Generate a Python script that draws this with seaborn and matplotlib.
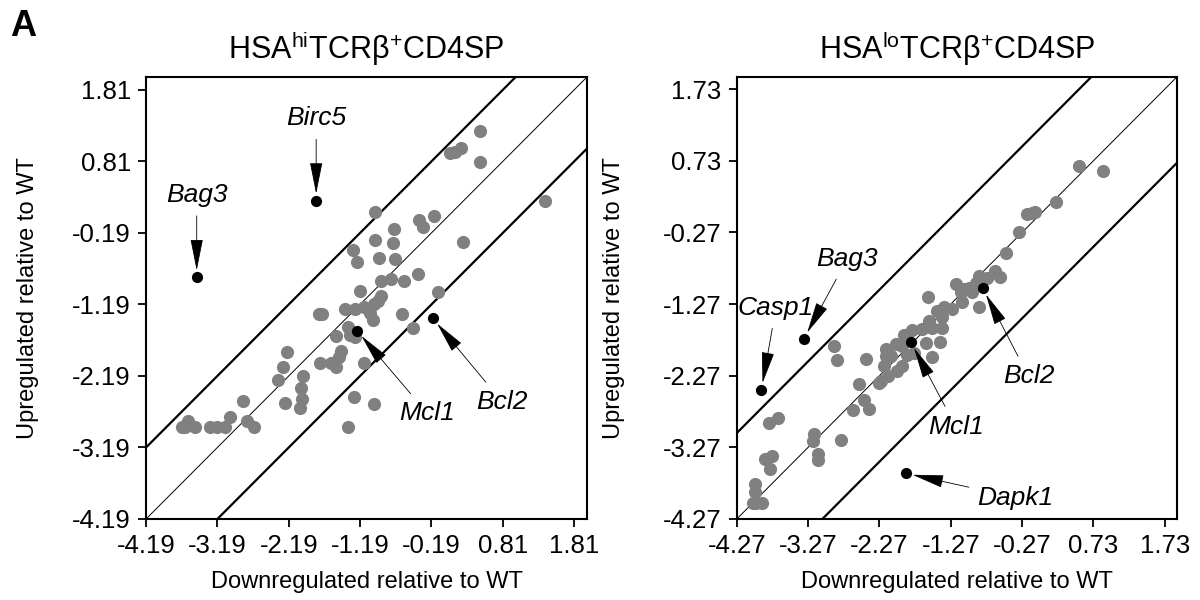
import matplotlib
matplotlib.use('Agg')
import matplotlib.pyplot as plt
import seaborn as sns
import pandas as pd

# HSA-hi panel: background genes (down, up)
hi_down = [0.495, 0.074, 0.144, 0.223, 0.495, 1.397, -0.978, -0.370, -0.310, -0.151,
           -0.712, -0.987, -0.730, 0.247, -1.296, -1.235, -0.922, -0.698, -0.384, -0.899,
           -0.758, -0.581, -1.198, -0.099, -0.899, -0.945, -1.001, -1.399, -1.259, -1.142,
           -1.072, -1.048, -1.011, -1.773, -1.726, -0.604, -1.366, -1.329, -1.259, -1.525,
           -0.454, -1.455, -1.492, -2.217, -1.749, -1.595, -1.530, -1.132, -2.273, -1.997,
           -2.343, -2.016, -2.007, -2.030, -2.834, -2.240, -1.282, -0.992, -3.012, -2.778,
           -2.684, -3.690, -3.596, -3.640, -3.503, -3.292, -3.199, -3.082, -1.361]
hi_up = [1.241, 0.934, 0.948, 0.994, 0.803, 0.262, 0.109, -0.008, -0.101, 0.048,
         -0.134, -0.288, -0.325, -0.320, -0.428, -0.591, -0.544, -0.558, -0.768, -0.861,
         -0.838, -0.861, -0.996, -1.015, -1.071, -1.136, -1.183, -1.253, -1.253, -1.220,
         -1.267, -1.313, -1.407, -1.327, -1.327, -1.323, -1.500, -1.616, -1.640, -1.626,
         -1.514, -1.836, -1.919, -1.859, -2.013, -2.013, -2.069, -2.013, -2.059, -2.185,
         -2.246, -2.362, -2.516, -2.642, -2.535, -2.572, -2.479, -2.581, -2.759, -2.815,
         -2.908, -2.908, -2.815, -2.908, -2.908, -2.908, -2.908, -2.908, -2.908]
hi_genes = ['Bag3', 'Birc5', 'Mcl1', 'Bcl2']
hi_gene_down = [-3.48, -1.806, -1.235, -0.174]
hi_gene_up = [-0.81, 0.262, -1.556, -1.383]
hi_ticks = [-4.19, -3.19, -2.19, -1.19, -0.19, 0.81, 1.81]
hi_labels = ['-4.19', '-3.19', '-2.19', '-1.19', '-0.19', '0.81', '1.81']

# HSA-lo panel
lo_down = [0.530, 0.869, 0.204, -0.201, -0.132, -0.094, -0.318, -0.495, -0.644, -0.574,
           -0.760, -0.876, -0.923, -1.193, -1.086, -1.016, -1.132, -0.969, -1.584, -0.876,
           -1.249, -1.365, -1.458, -1.109, -1.388, -1.575, -1.528, -1.398, -1.668, -1.807,
           -1.924, -2.031, -1.947, -1.621, -1.426, -2.180, -2.110, -2.180, -1.784, -1.877,
           -1.537, -2.203, -1.947, -2.017, -2.143, -2.273, -2.250, -2.459, -2.552, -2.902,
           -2.869, -2.645, -2.483, -2.422, -2.808, -3.181, -3.204, -3.134, -3.134, -3.693,
           -3.823, -3.870, -3.772, -3.809, -4.019, -4.019, -3.996, -3.916, -4.042]
lo_up = [0.655, 0.584, 0.153, -0.016, -0.002, 0.021, -0.270, -0.556, -0.815, -0.894,
         -0.909, -0.880, -0.974, -0.988, -1.059, -1.049, -1.106, -1.096, -1.176, -1.308,
         -1.340, -1.317, -1.364, -1.237, -1.444, -1.505, -1.599, -1.599, -1.622, -1.632,
         -1.707, -1.833, -1.857, -1.810, -1.796, -1.904, -1.998, -1.998, -1.951, -1.974,
         -2.007, -2.129, -2.139, -2.209, -2.279, -2.373, -2.350, -2.035, -2.383, -1.857,
         -2.054, -2.749, -2.608, -2.739, -3.162, -3.087, -3.181, -3.359, -3.444, -2.866,
         -2.927, -3.434, -3.392, -3.570, -3.782, -3.899, -4.040, -4.040, -4.040]
lo_genes = ['Bag3', 'Casp1', 'Mcl1', 'Bcl2', 'Dapk1']
lo_gene_down = [-3.330, -3.926, -1.831, -0.821, -1.901]
lo_gene_up = [-1.754, -2.467, -1.796, -1.049, -3.632]
lo_ticks = [-4.27, -3.27, -2.27, -1.27, -0.27, 0.73, 1.73]
lo_labels = ['-4.27', '-3.27', '-2.27', '-1.27', '-0.27', '0.73', '1.73']

# where the gene names sit (data coords)
hi_text = {'Bag3': (-3.48, 0.34), 'Birc5': (-1.806, 1.41),
           'Mcl1': (-0.25, -2.71), 'Bcl2': (0.80, -2.55)}
lo_text = {'Bag3': (-2.72, -0.64), 'Casp1': (-3.72, -1.32), 'Mcl1': (-1.20, -2.98),
           'Bcl2': (-0.18, -2.28), 'Dapk1': (-0.36, -3.97)}

sns.set_style('white')
plt.rcParams['font.family'] = ['Liberation Sans', 'DejaVu Sans']
plt.rcParams['mathtext.fontset'] = 'custom'
plt.rcParams['mathtext.rm'] = 'Liberation Sans'
plt.rcParams['mathtext.it'] = 'Liberation Sans:italic'
plt.rcParams['text.color'] = 'black'
plt.rcParams['axes.labelcolor'] = 'black'


def draw_panel(ax, down, up, genes, g_down, g_up, ticks, labels, lims, band, text_pos,
               title, ylab_x):
    bg = pd.DataFrame({'down': down, 'up': up})
    hl = pd.DataFrame({'gene': genes, 'down': g_down, 'up': g_up})
    sns.scatterplot(data=bg, x='down', y='up', color='#808080', s=90, linewidth=0, ax=ax, zorder=3)
    sns.scatterplot(data=hl, x='down', y='up', color='black', s=65, linewidth=0, ax=ax, zorder=4)

    ax.axline((lims[0], lims[0]), slope=1, color='black', lw=0.7, zorder=2)
    ax.axline((lims[0], lims[0] + band), slope=1, color='black', lw=1.6, zorder=2)
    ax.axline((lims[0], lims[0] - band), slope=1, color='black', lw=1.6, zorder=2)

    for g, gx, gy in zip(genes, g_down, g_up):
        ax.annotate(g, xy=(gx, gy), xytext=text_pos[g], fontsize=19, style='italic',
                    ha='center', va='center', zorder=5, color='black',
                    arrowprops=dict(arrowstyle='-|>,head_length=2.0,head_width=0.4',
                                    mutation_scale=10, color='black', lw=0.6,
                                    shrinkA=4, shrinkB=5))

    ax.set_xlim(lims)
    ax.set_ylim(lims)
    ax.set_xticks(ticks)
    ax.set_xticklabels(labels)
    ax.set_yticks(ticks)
    ax.set_yticklabels(labels)
    ax.tick_params(direction='out', length=6, width=1.3, labelsize=18.5, pad=5,
                   bottom=True, left=True, colors='black')
    for sp in ax.spines.values():
        sp.set_linewidth(1.5)
        sp.set_color('black')
    ax.set_xlabel('Downregulated relative to WT', fontsize=17, va='center')
    ax.set_ylabel('Upregulated relative to WT', fontsize=17, va='center')
    ax.xaxis.set_label_coords(0.5, -0.143)
    ax.yaxis.set_label_coords(ylab_x, 0.5)
    ax.set_title(title, fontsize=22, pad=13, color='black')


fig = plt.figure(figsize=(12, 6), dpi=100)
ax1 = fig.add_axes([0.1217, 0.135, 0.3675, 0.7367])
ax2 = fig.add_axes([0.614, 0.135, 0.3667, 0.7367])

draw_panel(ax1, hi_down, hi_up, hi_genes, hi_gene_down, hi_gene_up, hi_ticks, hi_labels,
           (-4.19, 1.99), 1.0, hi_text, r'HSA$^{\mathrm{hi}}$TCRβ$^{\mathrm{+}}$CD4SP', -0.268)
draw_panel(ax2, lo_down, lo_up, lo_genes, lo_gene_down, lo_gene_up, lo_ticks, lo_labels,
           (-4.27, 1.90), 1.2, lo_text, r'HSA$^{\mathrm{lo}}$TCRβ$^{\mathrm{+}}$CD4SP', -0.28)

fig.text(0.008, 0.985, 'A', fontsize=26, fontweight='bold', va='top', ha='left', color='black')

fig.savefig('out.png', dpi=100)
